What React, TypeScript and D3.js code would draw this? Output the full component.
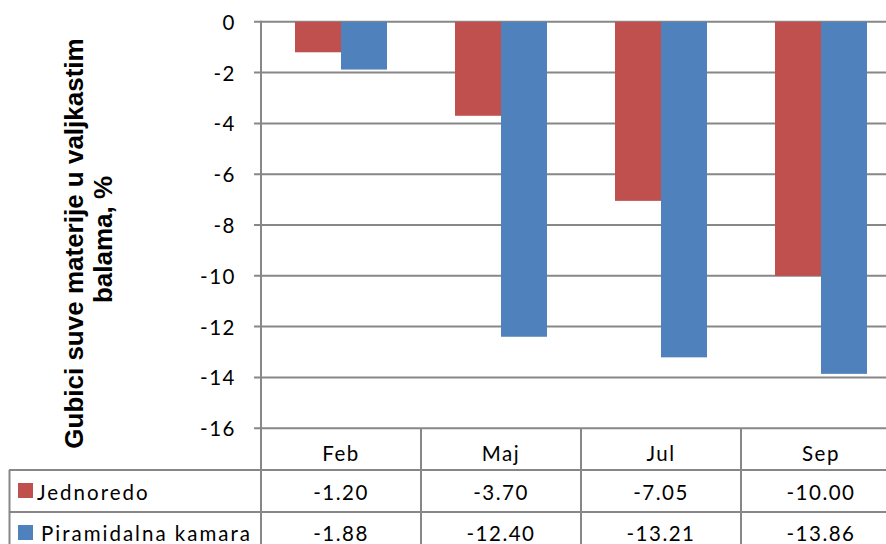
import React from "react";
import * as d3 from "d3";

const categories = ["Feb", "Maj", "Jul", "Sep"];
const seriesNames = ["Jednoredo", "Piramidalna kamara"];
const jednoredo = [-1.2, -3.7, -7.05, -10.0];
const piramidalna = [-1.88, -12.4, -13.21, -13.86];
const seriesColors = ["#C0504D", "#4F81BD"];
const yTicks = [0, -2, -4, -6, -8, -10, -12, -14, -16];
const titleLines = ["Gubici suve materije u valjkastim", "balama, %"];

const W = 886;
const H = 544;
const plotLeft = 261;
const plotRight = 901;
const yTop = 21.8;
const yBottom = 428.2;
const gridColor = "#878787";
const tableFont = "Lato, 'Open Sans', sans-serif";

export default function App() {
  const series = [jednoredo, piramidalna];
  const y = d3.scaleLinear().domain([-16, 0]).range([yBottom, yTop]);
  const x0 = d3.scaleBand<string>().domain(categories).range([plotLeft, plotRight]).padding(0);
  const x1 = d3
    .scaleBand<string>()
    .domain(seriesNames)
    .range([0, x0.bandwidth()])
    .paddingInner(0)
    .paddingOuter(0.739);

  const rowTops = [yBottom, 470, 512];
  const textOffsets = [33, 30, 28.5];
  const tableBottom = 554;

  return (
    <svg
      width={W}
      height={H}
      style={{ position: "absolute", left: 0, top: 0, background: "#fff" }}
      xmlns="http://www.w3.org/2000/svg"
    >
      <rect x={0} y={0} width={W} height={H} fill="#fff" />
      {/* gridlines and ticks */}
      {yTicks.map((t) => (
        <g key={t}>
          <line x1={254} x2={plotRight} y1={y(t)} y2={y(t)} stroke={gridColor} strokeWidth={2} />
          <text
            x={236}
            y={y(t) + 8}
            textAnchor="end"
            fontFamily={tableFont}
            fontSize={20.5}
            letterSpacing={1.5}
            fill="#000"
          >
            {t}
          </text>
        </g>
      ))}
      {/* bars */}
      {categories.map((c, i) => (
        <g key={c}>
          {series.map((s, j) => {
            const v = s[i];
            const bx = (x0(c) ?? 0) + (x1(seriesNames[j]) ?? 0);
            return (
              <rect
                key={j}
                x={bx}
                y={y(0)}
                width={x1.bandwidth()}
                height={y(v) - y(0)}
                fill={seriesColors[j]}
              />
            );
          })}
        </g>
      ))}
      {/* y axis line */}
      <line x1={plotLeft} x2={plotLeft} y1={yTop - 1} y2={tableBottom} stroke={gridColor} strokeWidth={2} />
      {/* table horizontal lines */}
      {rowTops.slice(1).map((ry) => (
        <line key={ry} x1={9} x2={plotRight} y1={ry} y2={ry} stroke={gridColor} strokeWidth={2} />
      ))}
      <line x1={9.5} x2={9.5} y1={470} y2={tableBottom} stroke={gridColor} strokeWidth={2} />
      {categories.map((c) => (
        <line
          key={c}
          x1={(x0(c) ?? 0) + x0.bandwidth()}
          x2={(x0(c) ?? 0) + x0.bandwidth()}
          y1={yBottom}
          y2={tableBottom}
          stroke={gridColor}
          strokeWidth={2}
        />
      ))}
      {/* header */}
      {categories.map((c) => (
        <text
          key={c}
          x={(x0(c) ?? 0) + x0.bandwidth() / 2}
          y={rowTops[0] + textOffsets[0]}
          textAnchor="middle"
          fontFamily={tableFont}
          fontSize={20.5}
          letterSpacing={1.5}
          fill="#000"
        >
          {c}
        </text>
      ))}
      {/* rows */}
      {series.map((s, j) => (
        <g key={j}>
          <rect x={18} y={rowTops[j + 1] + 13} width={15} height={15} fill={seriesColors[j]} />
          <text
            x={j === 0 ? 37 : 41}
            y={rowTops[j + 1] + textOffsets[j + 1]}
            fontFamily={tableFont}
            fontSize={20.5}
            letterSpacing={2}
            fill="#000"
          >
            {seriesNames[j]}
          </text>
          {categories.map((c, i) => (
            <text
              key={c}
              x={(x0(c) ?? 0) + x0.bandwidth() / 2}
              y={rowTops[j + 1] + textOffsets[j + 1]}
              textAnchor="middle"
              fontFamily={tableFont}
              fontSize={20.5}
              letterSpacing={1.5}
              fill="#000"
            >
              {s[i].toFixed(2)}
            </text>
          ))}
        </g>
      ))}
      {/* y-axis title */}
      <text
        transform="translate(83,243.5) rotate(-90)"
        textAnchor="middle"
        fontFamily="'Liberation Sans', Arial, sans-serif"
        fontWeight="bold"
        fontSize={26}
        fill="#000"
      >
        {titleLines[0]}
      </text>
      <text
        transform="translate(111.5,239.5) rotate(-90)"
        textAnchor="middle"
        fontFamily="'Liberation Sans', Arial, sans-serif"
        fontWeight="bold"
        fontSize={26}
        fill="#000"
      >
        {titleLines[1]}
      </text>
    </svg>
  );
}
